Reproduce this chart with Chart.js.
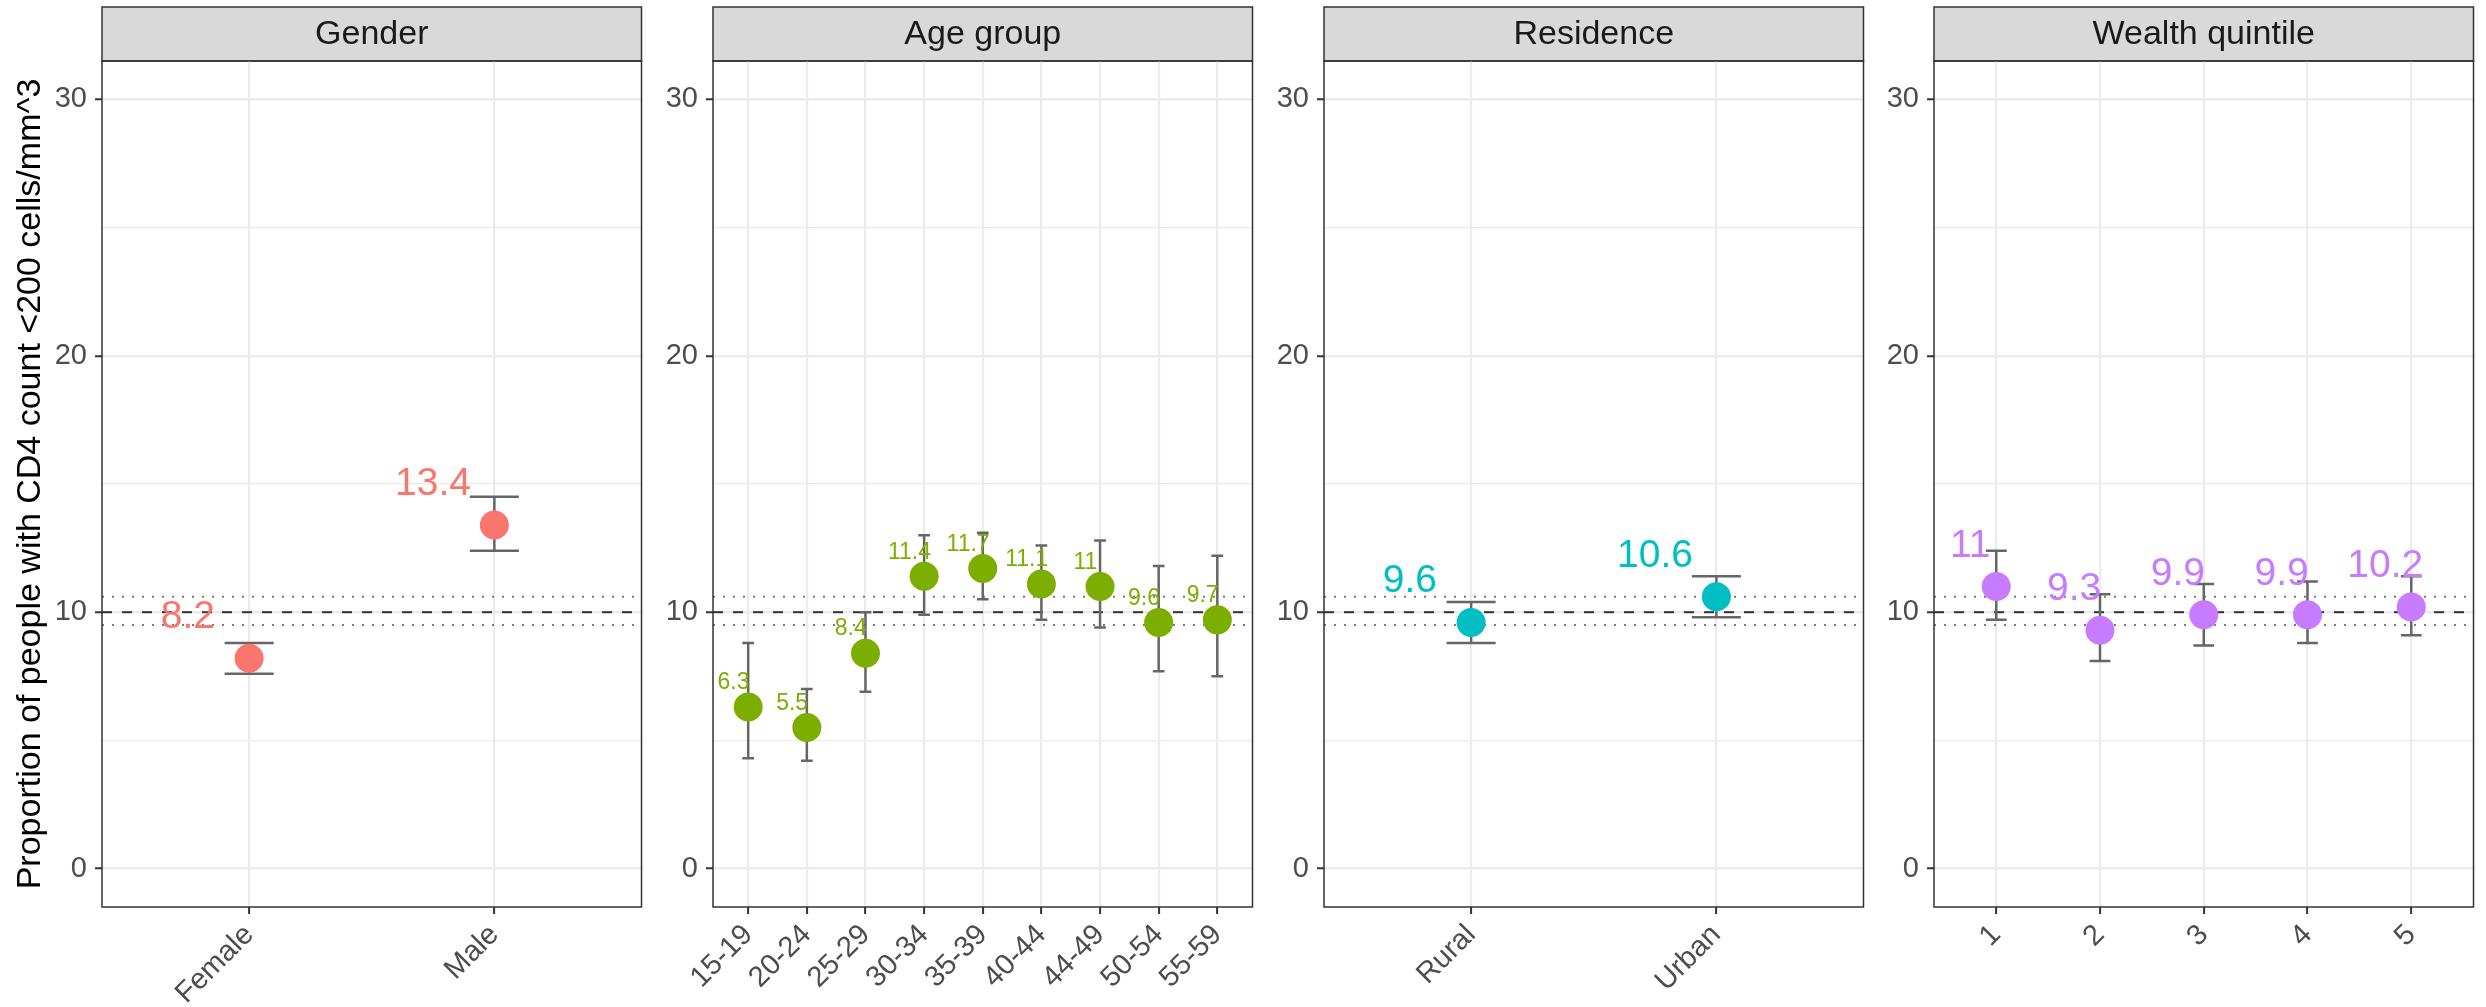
<!DOCTYPE html>
<html>
<head>
<meta charset="utf-8">
<script src="https://cdn.jsdelivr.net/npm/chart.js@4.4.1/dist/chart.umd.min.js"></script>
<style>
  body { margin: 0; background: #fff; }
  #wrap { position: relative; width: 2486px; height: 1007px; overflow: hidden; background: #fff; }
  #wrap canvas { position: absolute; top: 0; }
</style>
</head>
<body>
<div id="wrap"></div>
<script>
// Gender
const genderLabels = ['Female', 'Male'];
const genderValues = [8.2, 13.4];
const genderLower = [7.6, 12.4];
const genderUpper = [8.8, 14.5];

// Age group
const ageLabels = ['15-19', '20-24', '25-29', '30-34', '35-39', '40-44', '44-49', '50-54', '55-59'];
const ageValues = [6.3, 5.5, 8.4, 11.4, 11.7, 11.1, 11, 9.6, 9.7];
const ageLower = [4.3, 4.2, 6.9, 9.9, 10.5, 9.7, 9.4, 7.7, 7.5];
const ageUpper = [8.8, 7.0, 10.0, 13.0, 13.1, 12.6, 12.8, 11.8, 12.2];

// Residence
const residenceLabels = ['Rural', 'Urban'];
const residenceValues = [9.6, 10.6];
const residenceLower = [8.8, 9.8];
const residenceUpper = [10.4, 11.4];

// Wealth quintile
const wealthLabels = ['1', '2', '3', '4', '5'];
const wealthValues = [11, 9.3, 9.9, 9.9, 10.2];
const wealthLower = [9.7, 8.1, 8.7, 8.8, 9.1];
const wealthUpper = [12.4, 10.7, 11.1, 11.2, 11.4];

// Overall estimate and its CI (reference lines)
const overallValue = 10;
const overallLower = 9.5;
const overallUpper = 10.6;

// y axis ticks
const yTicks = [0, 5, 10, 15, 20, 25, 30];
const yMin = -1.5;
const yMax = 31.5;

const FONT = "'Liberation Sans', Arial, sans-serif";
Chart.defaults.font.family = FONT;

const panels = [
  { title: 'Gender', labels: genderLabels, values: genderValues, lower: genderLower, upper: genderUpper, color: '#F8766D', labelSize: 39 },
  { title: 'Age group', labels: ageLabels, values: ageValues, lower: ageLower, upper: ageUpper, color: '#7CAE00', labelSize: 23 },
  { title: 'Residence', labels: residenceLabels, values: residenceValues, lower: residenceLower, upper: residenceUpper, color: '#00BFC4', labelSize: 39 },
  { title: 'Wealth quintile', labels: wealthLabels, values: wealthValues, lower: wealthLower, upper: wealthUpper, color: '#C77CFF', labelSize: 39 },
];

// panel placement (px)
const panelLefts = [102, 713, 1324, 1934];
const panelWidth = 551;
const stripTop = 7;
const plotTop = 61;
const plotBottom = 907;
const H = 1007;

// strip on top + border round the panel
const panelFrame = {
  id: 'panelFrame',
  beforeDraw(chart, args, opts) {
    const { ctx, chartArea: a } = chart;
    ctx.save();
    ctx.fillStyle = '#D9D9D9';
    ctx.fillRect(a.left, stripTop, a.right - a.left, a.top - stripTop);
    ctx.strokeStyle = '#333333';
    ctx.lineWidth = 1.5;
    ctx.strokeRect(a.left, stripTop, a.right - a.left, a.top - stripTop);
    ctx.fillStyle = '#1A1A1A';
    ctx.font = `34px ${FONT}`;
    ctx.textAlign = 'center';
    ctx.textBaseline = 'middle';
    ctx.fillText(opts.title, (a.left + a.right) / 2, (stripTop + a.top) / 2 + 1);
    ctx.restore();
  },
  afterDraw(chart) {
    const { ctx, chartArea: a } = chart;
    ctx.save();
    ctx.strokeStyle = '#333333';
    ctx.lineWidth = 1.5;
    ctx.strokeRect(a.left, a.top, a.right - a.left, a.bottom - a.top);
    ctx.restore();
  },
};

// value labels next to each point
const valueLabels = {
  id: 'valueLabels',
  afterDatasetsDraw(chart) {
    const { ctx } = chart;
    const xScale = chart.scales.x;
    chart.data.datasets.forEach((ds, di) => {
      if (!ds.labelSize) return;
      const meta = chart.getDatasetMeta(di);
      ctx.save();
      ctx.fillStyle = ds.backgroundColor;
      ctx.font = `${ds.labelSize}px ${FONT}`;
      ctx.textAlign = 'center';
      ctx.textBaseline = 'alphabetic';
      meta.data.forEach((el, i) => {
        const raw = ds.data[i];
        const x = xScale.getPixelForValue(raw.x - 0.25);
        const y = el.y - 1.13 * ds.labelSize + 0.36 * ds.labelSize;
        ctx.fillText(String(raw.y), x, y);
      });
      ctx.restore();
    });
  },
};

// error bars as broken line segments
const errorBarData = (lower, upper, capHalf) => {
  const pts = [];
  lower.forEach((lo, i) => {
    const x = i + 1;
    const hi = upper[i];
    pts.push(
      { x, y: lo }, { x, y: hi }, { x, y: null },
      { x: x - capHalf, y: hi }, { x: x + capHalf, y: hi }, { x, y: null },
      { x: x - capHalf, y: lo }, { x: x + capHalf, y: lo }, { x, y: null }
    );
  });
  return pts;
};

const wrap = document.getElementById('wrap');

panels.forEach((p, idx) => {
  const n = p.labels.length;
  const xMin = 0.4;
  const xMax = n + 0.6;
  const axisW = idx === 0 ? 102 : 61;
  const left = panelLefts[idx] - axisW;
  const W = axisW + panelWidth + 3;

  const canvas = document.createElement('canvas');
  canvas.width = W;
  canvas.height = H;
  canvas.style.left = left + 'px';
  canvas.style.width = W + 'px';
  canvas.style.height = H + 'px';
  wrap.appendChild(canvas);

  const hline = (y, dash, color, width) => ({
    data: [{ x: xMin, y }, { x: xMax, y }],
    showLine: true,
    borderColor: color,
    borderWidth: width,
    borderDash: dash,
    pointRadius: 0,
    order: 5,
  });

  new Chart(canvas, {
    type: 'scatter',
    data: {
      datasets: [
        hline(overallValue, [10, 10], '#333333', 2),
        hline(overallUpper, [2, 8], '#7A7A7A', 2),
        hline(overallLower, [2, 8], '#7A7A7A', 2),
        {
          data: errorBarData(p.lower, p.upper, 0.1),
          showLine: true,
          spanGaps: false,
          borderColor: '#666666',
          borderWidth: 2.5,
          pointRadius: 0,
          order: 3,
        },
        {
          data: p.values.map((v, i) => ({ x: i + 1, y: v })),
          backgroundColor: p.color,
          borderWidth: 0,
          pointRadius: 14.5,
          pointHoverRadius: 14.5,
          labelSize: p.labelSize,
          order: 1,
        },
      ],
    },
    options: {
      responsive: false,
      animation: false,
      devicePixelRatio: 1,
      layout: { padding: { top: plotTop, left: 0, right: 3, bottom: 0 } },
      plugins: {
        legend: { display: false },
        tooltip: { enabled: false },
        panelFrame: { title: p.title },
      },
      scales: {
        x: {
          type: 'linear',
          min: xMin,
          max: xMax,
          afterBuildTicks: (s) => { s.ticks = p.labels.map((_, i) => ({ value: i + 1 })); },
          afterFit: (s) => { s.height = H - plotBottom; },
          border: { display: false },
          grid: { color: '#EBEBEB', lineWidth: 2.2, tickColor: '#333333', tickWidth: 2, tickLength: 7 },
          ticks: {
            autoSkip: false,
            maxRotation: 45,
            minRotation: 45,
            padding: 4,
            color: '#4D4D4D',
            font: { size: 29, family: FONT },
            callback: (v) => p.labels[Math.round(v) - 1],
          },
        },
        y: {
          type: 'linear',
          min: yMin,
          max: yMax,
          afterBuildTicks: (s) => { s.ticks = yTicks.map((v) => ({ value: v })); },
          afterFit: (s) => { s.width = axisW; },
          border: { display: false },
          title: {
            display: idx === 0,
            text: 'Proportion of people with CD4 count <200 cells/mm^3',
            color: '#000000',
            font: { size: 34, family: FONT },
            padding: { top: 10, bottom: 0 },
          },
          grid: {
            color: '#EBEBEB',
            lineWidth: (c) => (c.tick && c.tick.value % 10 === 0 ? 2.5 : 1.2),
            tickColor: (c) => (c.tick && c.tick.value % 10 === 0 ? '#333333' : 'rgba(0,0,0,0)'),
            tickWidth: 2,
            tickLength: 7,
          },
          ticks: {
            padding: 8,
            color: '#4D4D4D',
            font: { size: 29, family: FONT },
            callback: (v) => (v % 10 === 0 ? v : ''),
          },
        },
      },
    },
    plugins: [panelFrame, valueLabels],
  });
});
</script>
</body>
</html>
